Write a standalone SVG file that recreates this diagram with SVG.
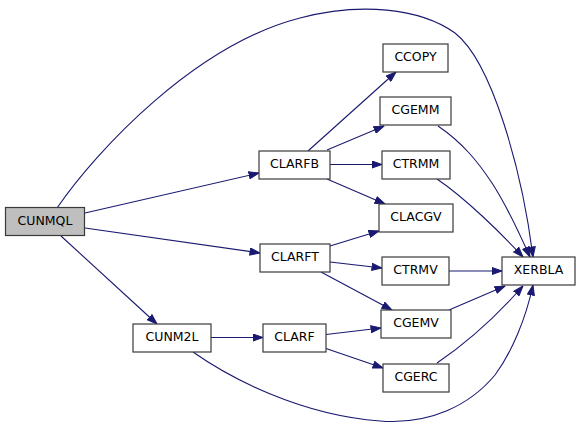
<svg xmlns="http://www.w3.org/2000/svg" width="581" height="427" viewBox="0 0 581 427">
<defs>
<marker id="ah" markerUnits="userSpaceOnUse" markerWidth="11" markerHeight="8" viewBox="0 0 11 8" refX="10.5" refY="4" orient="auto">
<path d="M0.5,0.5 L10.5,4 L0.5,7.5 z" fill="#191970" stroke="#191970" stroke-width="1"/>
</marker>
<style>
.n rect{fill:#ffffff;stroke:#3a3a3a;stroke-width:1.2}
.n text{font-family:"DejaVu Sans",sans-serif;font-size:12.5px;fill:#000;text-anchor:middle}
#edges path{fill:none;stroke:#191970;stroke-width:1.1;marker-end:url(#ah)}
</style>
</defs>
<rect width="581" height="427" fill="#ffffff"/>
<g id="edges">
<path d="M57,208 C97,150 195,45 300,18 C360,2 420,8 455,33 C492,62 522,170 533,257"/>
<path d="M85,213 L259,173"/>
<path d="M85,228 L260,253"/>
<path d="M61,236 L157,324"/>
<path d="M193,352 C230,378 300,415 380,421 C430,425 470,405 495,375 C512,352 526,318 533,285"/>
<path d="M211,337.5 L263,337.5"/>
<path d="M308,151 L396,72"/>
<path d="M327,150 L384,126"/>
<path d="M330,164.5 L382,164.5"/>
<path d="M327,179 L385,204"/>
<path d="M330,246 L379,231"/>
<path d="M330,262 L382,268"/>
<path d="M321,272 L392,310"/>
<path d="M326,334.5 L381,328"/>
<path d="M326,348.5 L383,368"/>
<path d="M438,126 C463,143 478,162 492,183 C505,203 518,230 530,257"/>
<path d="M437,179 C465,198 500,232 523,257"/>
<path d="M449,271 L502,271"/>
<path d="M449,310 L505,286"/>
<path d="M437,363 C468,342 500,312 523,286"/>
</g>
<g id="CUNMQL" class="n"><rect x="5.5" y="207.5" width="79" height="28" style="fill:#bfbfbf"/><text x="45" y="225">CUNMQL</text></g>
<g id="CUNM2L" class="n"><rect x="133" y="324" width="78" height="28"/><text x="172" y="341">CUNM2L</text></g>
<g id="CLARFB" class="n"><rect x="259" y="151" width="71" height="28"/><text x="294.5" y="168">CLARFB</text></g>
<g id="CLARFT" class="n"><rect x="260" y="244" width="70" height="28"/><text x="295" y="261">CLARFT</text></g>
<g id="CLARF" class="n"><rect x="263" y="324" width="63" height="28"/><text x="294.5" y="341">CLARF</text></g>
<g id="CCOPY" class="n"><rect x="383" y="44" width="65" height="28"/><text x="415.5" y="61">CCOPY</text></g>
<g id="CGEMM" class="n"><rect x="380" y="97" width="71" height="28"/><text x="415.5" y="114">CGEMM</text></g>
<g id="CTRMM" class="n"><rect x="382" y="151" width="68" height="28"/><text x="416" y="168">CTRMM</text></g>
<g id="CLACGV" class="n"><rect x="379" y="204" width="74" height="28"/><text x="416" y="221">CLACGV</text></g>
<g id="CTRMV" class="n"><rect x="382" y="257" width="67" height="28"/><text x="415.5" y="274">CTRMV</text></g>
<g id="CGEMV" class="n"><rect x="381" y="310" width="70" height="28"/><text x="416" y="327">CGEMV</text></g>
<g id="CGERC" class="n"><rect x="383" y="364" width="66" height="28"/><text x="416" y="381">CGERC</text></g>
<g id="XERBLA" class="n"><rect x="502" y="257" width="73" height="28"/><text x="538.5" y="274">XERBLA</text></g>
</svg>
